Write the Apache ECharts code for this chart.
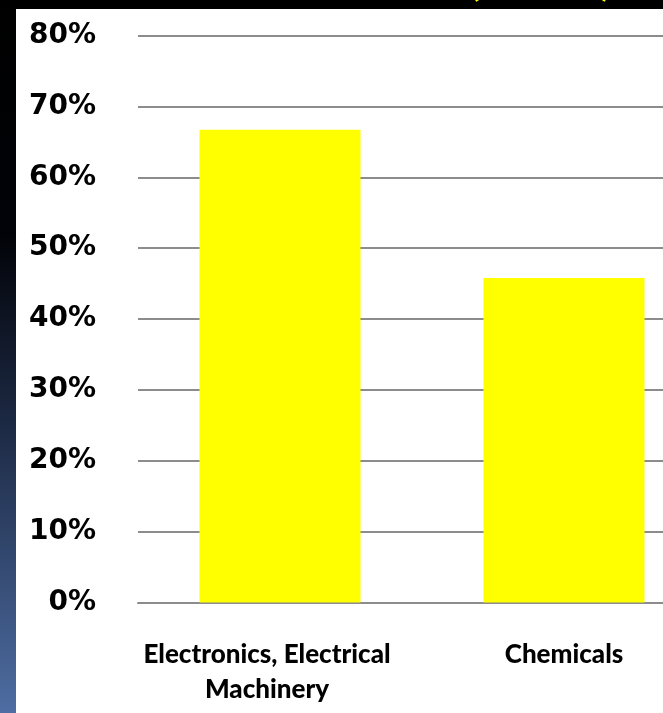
<!DOCTYPE html>
<html>
<head>
<meta charset="utf-8">
<script src="https://cdn.jsdelivr.net/npm/echarts@6/dist/echarts.min.js"></script>
<style>
  html, body { margin: 0; padding: 0; background: #000; overflow: hidden; width: 663px; height: 713px; }
  #chart { width: 730px; height: 713px; }
</style>
</head>
<body>
<div id="chart"></div>
<script>
// Share by industry sector (percent)
const categories = ['Electronics, Electrical\nMachinery', 'Chemicals'];
const shareValues = [66.7, 45.8];
const yTicks = { min: 0, max: 80, step: 10 };

const chart = echarts.init(document.getElementById('chart'), null, { renderer: 'canvas' });

// the two-line label sits a little left of its bar
const categoryItems = categories.map((name, i) =>
  i === 0 ? { value: name, textStyle: { padding: [0, 26, 0, 0] } } : name
);

chart.setOption({
  backgroundColor: '#000000',
  animation: false,
  graphic: [
    {
      type: 'rect', z: 0, silent: true,
      shape: { x: 0, y: 0, width: 16, height: 713 },
      style: {
        fill: new echarts.graphic.LinearGradient(0, 0, 0, 1, [
          { offset: 0, color: '#000000' },
          { offset: 0.33, color: '#020308' },
          { offset: 0.6, color: '#1d2a45' },
          { offset: 1, color: '#4e6da2' }
        ])
      }
    },
    {
      type: 'text', z: 0, silent: true, left: 470, top: -34,
      style: { text: '(', fill: '#ffff00', font: 'bold 36px Lato' }
    },
    {
      type: 'text', z: 0, silent: true, left: 601, top: -34,
      style: { text: ')', fill: '#ffff00', font: 'bold 36px Lato' }
    },
    {
      type: 'rect', z: 0, silent: true,
      shape: { x: 16, y: 9, width: 720, height: 720 },
      style: { fill: '#ffffff' }
    }
  ],
  grid: { left: 138, top: 35.5, width: 568, height: 567, containLabel: false },
  xAxis: {
    type: 'category',
    data: categoryItems,
    axisLine: { show: true, lineStyle: { color: '#8c8c8c', width: 2 } },
    axisTick: { show: false },
    axisLabel: {
      interval: 0,
      margin: 35,
      color: '#000000',
      fontFamily: 'Lato',
      fontWeight: 900,
      fontSize: 26,
      lineHeight: 35
    }
  },
  yAxis: {
    type: 'value',
    min: yTicks.min,
    max: yTicks.max,
    interval: yTicks.step,
    axisLine: { show: false },
    axisTick: { show: false },
    splitLine: { show: true, lineStyle: { color: '#8c8c8c', width: 2 } },
    axisLabel: {
      margin: 42,
      padding: [6, 0, 0, 0],
      formatter: '{value}%',
      color: '#000000',
      fontFamily: 'DejaVu Sans',
      fontWeight: 'bold',
      fontSize: 28
    }
  },
  series: [{
    type: 'bar',
    data: shareValues,
    barWidth: '56.7%',
    itemStyle: { color: '#ffff00' },
    z: 2
  }]
});
</script>
</body>
</html>
